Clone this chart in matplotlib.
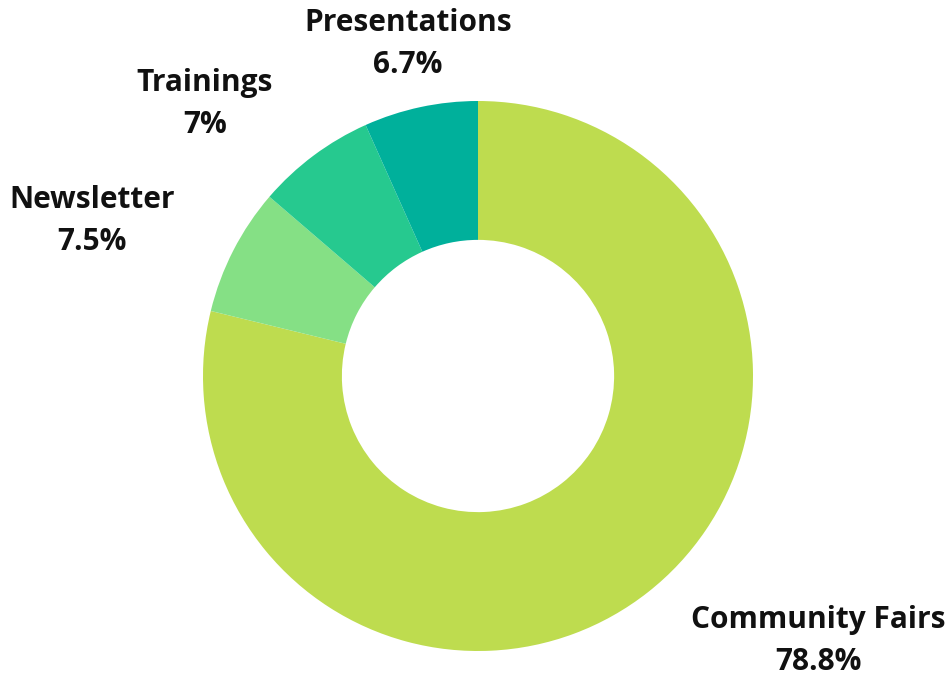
import matplotlib.pyplot as plt

categories = ["Community Fairs", "Newsletter", "Trainings", "Presentations"]
shares = [78.8, 7.5, 7.0, 6.7]
pct_labels = ["78.8%", "7.5%", "7%", "6.7%"]
colors = ["#bedc4f", "#85e085", "#26c98f", "#00b09b"]

# label anchor points in pixel coords (x, y from top)
label_pos = [(818, 641), (92, 221), (205, 104), (408, 44)]

plt.rcParams['font.family'] = ['Open Sans', 'DejaVu Sans']

fig = plt.figure(figsize=(9.5, 6.79), dpi=100)
ax = fig.add_axes([0, 0, 1, 1])

ax.pie(shares, colors=colors, startangle=90, counterclock=False,
       center=(478, 679 - 376), radius=275, frame=True,
       wedgeprops=dict(width=275 * 0.505, linewidth=0))

for name, pct, (x, y) in zip(categories, pct_labels, label_pos):
    ax.text(x, 679 - y, f"{name}\n{pct}", ha='center', va='center',
            fontsize=21.5, fontweight='bold', color='#111111', linespacing=1.5)

ax.set_xlim(0, 950)
ax.set_ylim(0, 679)
ax.axis('off')

fig.savefig("out.png", dpi=100)
